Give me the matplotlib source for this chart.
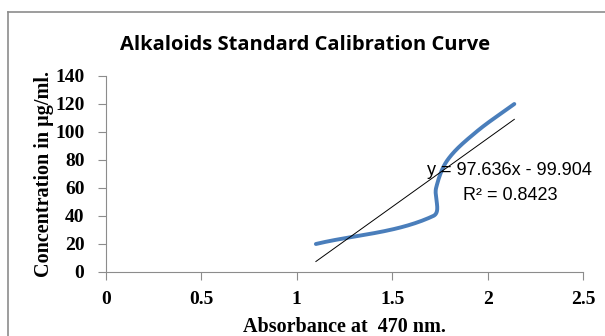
import numpy as np
import matplotlib
matplotlib.use("Agg")
import matplotlib.pyplot as plt
from matplotlib.lines import Line2D

# Data
absorbance = [1.10, 1.715, 1.73, 1.79, 1.94, 2.14]
concentration = [20, 40, 60, 80, 100, 120]
slope, intercept = 97.636, -99.904
r2 = 0.8423
x_ticks = [0, 0.5, 1, 1.5, 2, 2.5]
y_ticks = [0, 20, 40, 60, 80, 100, 120, 140]


def smooth(ax, xs, ys, n=50):
    # Smoothed line like Excel: cubic Bezier through the points, handles
    # proportional to segment length (computed in display space).
    tr = ax.transData
    P = tr.transform(np.column_stack([xs, ys]))
    m = len(P)
    T = np.zeros_like(P)
    for i in range(m):
        a = P[max(i - 1, 0)]; b = P[min(i + 1, m - 1)]
        d = b - a
        T[i] = d / (np.linalg.norm(d) + 1e-12)
    out = []
    t = np.linspace(0, 1, n)[:, None]
    for i in range(m - 1):
        p0, p3 = P[i], P[i + 1]
        L = np.linalg.norm(p3 - p0)
        c1 = p0 + T[i] * L / 3
        c2 = p3 - T[i + 1] * L / 3
        b = (1 - t) ** 3 * p0 + 3 * (1 - t) ** 2 * t * c1 + 3 * (1 - t) * t ** 2 * c2 + t ** 3 * p3
        out.append(b)
    B = np.vstack(out)
    D = tr.inverted().transform(B)
    return D[:, 0], D[:, 1]


fig = plt.figure(figsize=(6.05, 3.36), dpi=100)
fig.patch.set_facecolor("white")
fig.add_artist(Line2D([8 / 605, 8 / 605], [0, 1 - 12 / 336], color="#8c8c8c", lw=1.2,
                      transform=fig.transFigure))
fig.add_artist(Line2D([8 / 605, 1], [1 - 12 / 336, 1 - 12 / 336], color="#8c8c8c", lw=1.2,
                      transform=fig.transFigure))

ax = fig.add_axes([106 / 605, 1 - 272 / 336, (583 - 106) / 605, (272 - 76) / 336])
ax.set_xlim(0, 2.5)
ax.set_ylim(0, 140)

sx, sy = smooth(ax, absorbance, concentration)
ax.plot(sx, sy, color="#4a7ebb", lw=2.8, solid_capstyle="round", solid_joinstyle="round")
tx = np.array([min(absorbance), max(absorbance)])
ax.plot(tx, slope * tx + intercept, color="black", lw=0.7)

ax.set_xticks(x_ticks)
ax.set_xticklabels([f"{v:g}" for v in x_ticks])
ax.set_yticks(y_ticks)
for s in ["top", "right"]:
    ax.spines[s].set_visible(False)
for s in ["left", "bottom"]:
    ax.spines[s].set_color("#8c8c8c")
ax.tick_params(axis="both", colors="#8c8c8c", length=5.5, width=0.8, labelcolor="black")
ax.tick_params(axis="x", pad=8)
ax.tick_params(axis="y", pad=10)
for lab in ax.get_xticklabels() + ax.get_yticklabels():
    lab.set_fontfamily("Liberation Serif")
    lab.set_fontsize(14)
    lab.set_fontweight("bold")

ax.set_xlabel("Absorbance at  470 nm.", fontfamily="Liberation Serif", fontsize=14.5,
              fontweight="bold", labelpad=7)
ax.set_ylabel("Concentration in µg/ml.", fontfamily="Liberation Serif", fontsize=14.5,
              fontweight="bold", labelpad=1)

fig.text(305 / 605, 1 - 45 / 336, "Alkaloids Standard Calibration Curve",
         ha="center", va="center", fontsize=14.5, fontweight="bold", fontfamily="Open Sans")

sign = "-" if intercept < 0 else "+"
ax.text(2.117, 72.5, f"y = {slope:.3f}x {sign} {abs(intercept):.3f}", ha="center", va="center",
        fontsize=13, fontfamily="Liberation Sans", clip_on=False)
ax.text(2.117, 55, f"R² = {r2:.4f}", ha="center", va="center",
        fontsize=13, fontfamily="Liberation Sans", clip_on=False)

fig.savefig("out.png", dpi=100)
